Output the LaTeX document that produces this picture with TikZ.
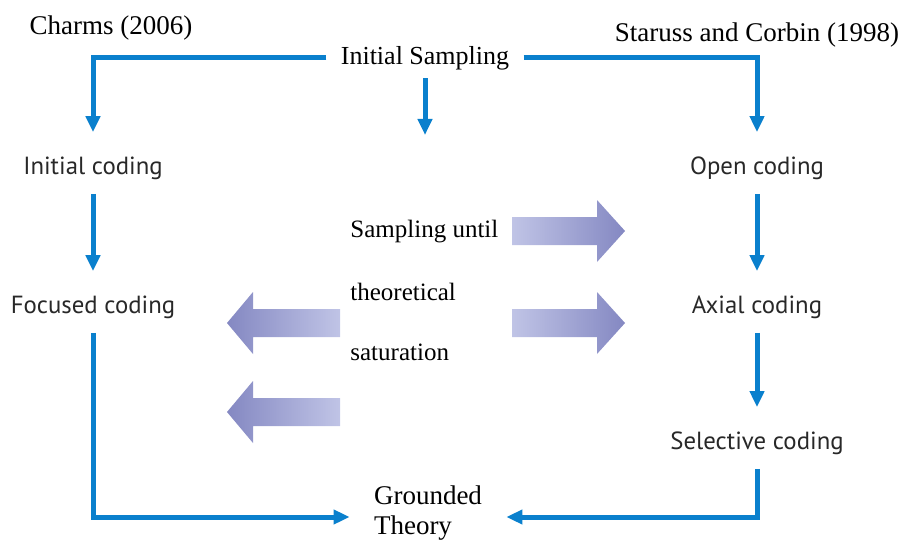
\documentclass[tikz,border=0pt]{standalone}
\usepackage{fontspec}
\setmainfont{Liberation Serif}
\newfontfamily\stagefont{PT Sans}
\usetikzlibrary{arrows.meta}
\definecolor{flowblue}{RGB}{10,128,205}
\definecolor{shadedark}{RGB}{132,136,194}
\definecolor{shadelight}{RGB}{192,196,230}
\definecolor{stagetext}{RGB}{40,40,40}
\tikzset{
  source/.style={inner sep=0pt, font=\fontsize{13.5}{16}\selectfont},
  serifnote/.style={inner sep=0pt, font=\fontsize{12.5}{15}\selectfont},
  stage/.style={inner sep=0pt, text=stagetext, font=\stagefont\fontsize{12.4}{15}\selectfont},
  flow/.style={draw=flowblue, line width=2.5pt, -{Triangle[width=7pt,length=8pt]},
    shorten <=7pt, shorten >=12pt},
}
\begin{document}
\begin{tikzpicture}[x=0.5pt, y=-0.5pt]
  \useasboundingbox (0,0) rectangle (904,540);

  \node[source] (charms) at (111,28) {Charms (2006)};
  \node[source] (strauss) at (757,35) {Staruss and Corbin (1998)};
  \node[serifnote, font=\fontsize{13}{15}\selectfont] (samp) at (425,58) {Initial Sampling};

  \node[stage] (initc) at (93,168) {Initial coding};
  \node[stage] (focc) at (93,307) {Focused coding};
  \node[stage] (openc) at (757,168) {Open coding};
  \node[stage] (axc) at (757,307) {Axial coding};
  \node[stage] (selc) at (757,443) {Selective coding};

  \node[serifnote, anchor=west] (sat1) at (350,232) {Sampling until};
  \node[serifnote, anchor=west] (sat2) at (350,292) {theoretical};
  \node[serifnote, anchor=west] (sat3) at (350,352) {saturation};
  \node[serifnote, align=left, font=\fontsize{13.5}{15}\selectfont] (gt) at (428,513) {Grounded\\Theory};

  \coordinate (mid) at (425,135);

  % sampling feeds both traditions
  \draw[flow] (samp.west) -| (initc.north);
  \draw[flow] (samp.east) -| (openc.north);
  \draw[flow, shorten <=4pt, shorten >=0pt] (samp.south) -- (mid);

  \draw[flow] (initc) -- (focc);
  \draw[flow] (openc) -- (axc);
  \draw[flow] (axc) -- (selc);
  \draw[flow] (focc.south) |- ([yshift=-2pt]gt.west);
  \draw[flow] (selc.south) |- ([yshift=-2pt]gt.east);

  % wide shaded arrows
  \shade[left color=shadelight, right color=shadedark] (512,217) -- (597,217) -- (597,200) -- (625,231) -- (597,262) -- (597,245) -- (512,245) -- cycle;
  \shade[left color=shadelight, right color=shadedark] (512,309) -- (597,309) -- (597,292) -- (625,323) -- (597,354) -- (597,337) -- (512,337) -- cycle;
  \shade[left color=shadedark, right color=shadelight] (340,309) -- (253,309) -- (253,292) -- (227,323) -- (253,354) -- (253,337) -- (340,337) -- cycle;
  \shade[left color=shadedark, right color=shadelight] (340,398) -- (253,398) -- (253,381) -- (227,412) -- (253,443) -- (253,426) -- (340,426) -- cycle;
\end{tikzpicture}
\end{document}
